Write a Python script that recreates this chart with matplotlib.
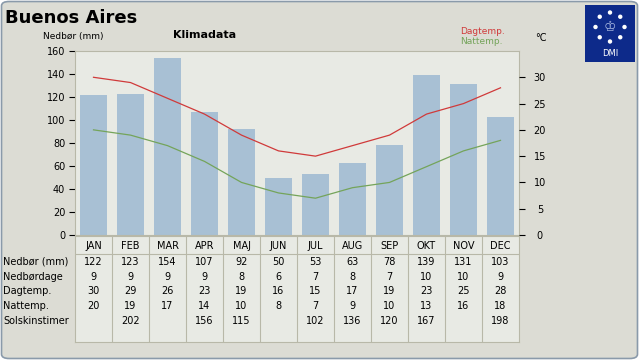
import numpy as np
import matplotlib.pyplot as plt
from matplotlib.patches import FancyBboxPatch, Circle

# Klimadata for Buenos Aires
maaneder = ['JAN', 'FEB', 'MAR', 'APR', 'MAJ', 'JUN', 'JUL', 'AUG', 'SEP', 'OKT', 'NOV', 'DEC']
nedboer = [122, 123, 154, 107, 92, 50, 53, 63, 78, 139, 131, 103]
nedboerdage = [9, 9, 9, 9, 8, 6, 7, 8, 7, 10, 10, 9]
dagtemp = [30, 29, 26, 23, 19, 16, 15, 17, 19, 23, 25, 28]
nattemp = [20, 19, 17, 14, 10, 8, 7, 9, 10, 13, 16, 18]
solskin = ['', 202, '', 156, 115, '', 102, 136, 120, 167, '', 198]
raekker = ['Nedbør (mm)', 'Nedbørdage', 'Dagtemp.', 'Nattemp.', 'Solskinstimer']

W, H = 640, 360
bg = '#dcdcd4'
plotbg = '#e8eae4'
kant = '#b8b8a8'


def fx(x):
    return x / W


def fy(y):
    return 1 - y / H


fig = plt.figure(figsize=(6.4, 3.6), dpi=100)
fig.patch.set_facecolor('white')
fig.patches.append(FancyBboxPatch((fx(1.5), fy(358.5)), fx(636), (357) / H,
                                  boxstyle='round,pad=0,rounding_size=0.012',
                                  transform=fig.transFigure, facecolor=bg,
                                  edgecolor='#8a9aaa', linewidth=1.2, zorder=-10))

# Hovedplot
ax = fig.add_axes([fx(75), fy(235), 444 / W, 184 / H])
ax.set_facecolor(plotbg)
x = list(range(12))
ax.bar(x, nedboer, width=0.73, color='#a8c0d4', zorder=2)
ax.set_xlim(-0.5, 11.5)
ax.set_ylim(0, 160)
ax.set_yticks(range(0, 161, 20))
ax.set_xticks([])
for s in ax.spines.values():
    s.set_color(kant)
    s.set_linewidth(0.8)
ax.tick_params(axis='y', length=4, width=0.8, pad=3, labelsize=7, color='black')

ax2 = ax.twinx()
ax2.plot(x, dagtemp, color='#d03a3a', linewidth=0.9)
ax2.plot(x, nattemp, color='#74a45a', linewidth=0.9)
ax2.set_ylim(0, 35)
ax2.set_yticks(range(0, 31, 5))
for s in ax2.spines.values():
    s.set_visible(False)
ax2.tick_params(axis='y', length=4, width=0.8, pad=11, labelsize=7)
for lab in ax2.get_yticklabels():
    lab.set_horizontalalignment('center')

# Tabel
tax = fig.add_axes([fx(75), fy(342), 444 / W, 106 / H])
tax.set_facecolor(plotbg)
tax.set_xlim(0, 12)
tax.set_ylim(342, 236)
tax.set_xticks([])
tax.set_yticks([])
for s in tax.spines.values():
    s.set_color(kant)
    s.set_linewidth(0.8)
for i in range(1, 12):
    tax.axvline(i, color=kant, linewidth=0.8)
tax.axhline(254, color=kant, linewidth=0.8)

rk_y = [262, 277, 291, 306, 321]
data = [nedboer, nedboerdage, dagtemp, nattemp, solskin]
for i, m in enumerate(maaneder):
    tax.text(i + 0.5, 246, m, ha='center', va='center', fontsize=7)
    for r, y in enumerate(rk_y):
        tax.text(i + 0.5, y, str(data[r][i]), ha='center', va='center', fontsize=7)
for r, y in enumerate(rk_y):
    fig.text(fx(3), fy(y), raekker[r], ha='left', va='center', fontsize=7)

# Tekster
fig.text(fx(5), fy(18), 'Buenos Aires', fontsize=13, fontweight='bold', va='center')
fig.text(fx(73), fy(36), 'Nedbør (mm)', fontsize=6.5, ha='center', va='center')
fig.text(fx(205), fy(35), 'Klimadata', fontsize=8, fontweight='bold', ha='center', va='center')
fig.text(fx(460), fy(32), 'Dagtemp.', fontsize=6.5, color='#d03a3a', va='center')
fig.text(fx(460), fy(42), 'Nattemp.', fontsize=6.5, color='#74a45a', va='center')
fig.text(fx(541), fy(38), '°C', fontsize=7, ha='center', va='center')

# DMI-logo (egne pixelkoordinater)
lax = fig.add_axes([fx(585), fy(62), 50 / W, 57 / H])
lax.set_xlim(585, 635)
lax.set_ylim(62, 5)
lax.set_facecolor('#0d2a8a')
lax.set_xticks([])
lax.set_yticks([])
for s in lax.spines.values():
    s.set_visible(False)
for a in np.arange(8) * np.pi / 4:
    lax.add_patch(Circle((610 + 14.5 * np.sin(a), 27 - 14.5 * np.cos(a)), 2.2,
                         facecolor='white', edgecolor='none'))
lax.text(610, 27, '♔', fontsize=10, color='#a8b8e0', ha='center', va='center')
lax.text(610, 54, 'DMI', fontsize=6, color='white', ha='center', va='center')

fig.savefig('out.png', dpi=100, facecolor=fig.get_facecolor())
